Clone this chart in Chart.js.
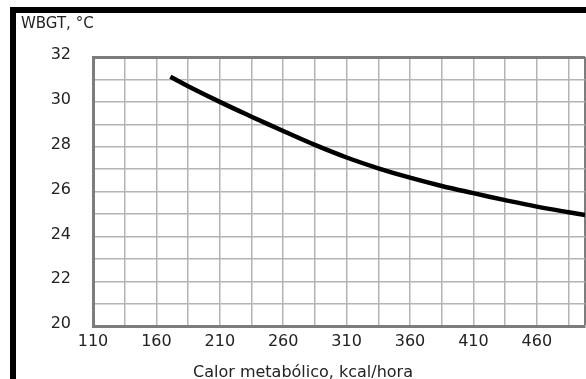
<!DOCTYPE html>
<html>
<head>
<meta charset="utf-8">
<script src="https://cdn.jsdelivr.net/npm/chart.js@4.4.0/dist/chart.umd.min.js"></script>
<style>
  html, body { margin: 0; padding: 0; background: #fff; overflow: hidden; }
  #frame { position: absolute; left: 10px; top: 7px; width: 600px; height: 400px;
           border-left: 6px solid #000; border-top: 6px solid #000; }
  #wrap { position: absolute; left: 0; top: 0; width: 586px; height: 379px; }
</style>
</head>
<body>
<div id="frame"></div>
<div id="wrap"><canvas id="wbgtChart" width="586" height="379"></canvas></div>
<script>
// metabolic heat (kcal/hora) vs WBGT limit (°C)
var calor = [171, 185, 210, 235, 260, 285, 310, 335, 360, 385, 410, 435, 460, 485, 498];
var wbgt = [31.12, 30.7, 30.0, 29.34, 28.7, 28.08, 27.52, 27.04, 26.62, 26.25, 25.93, 25.62, 25.33, 25.08, 24.96];

var xGrid = [110, 135, 160, 185, 210, 235, 260, 285, 310, 335, 360, 385, 410, 435, 460, 485];
var xLabels = [110, 160, 210, 260, 310, 360, 410, 460];
var yLabels = [20, 22, 24, 26, 28, 30, 32];
var xMin = 110, xMax = 498, yMin = 20, yMax = 32;

var points = calor.map(function (c, i) { return { x: c, y: wbgt[i] }; });

var gridColor = '#b4b4b4';
var edgeColor = '#7d7d7d';
var textColor = '#222';
var fontFamily = '"DejaVu Sans", Arial, sans-serif';

var ctx = document.getElementById('wbgtChart').getContext('2d');

var wbgtChart = new Chart(ctx, {
    type: 'line',
    data: {
        datasets: [{
            label: 'WBGT',
            data: points,
            borderColor: '#000',
            borderWidth: 4.5,
            pointRadius: 0,
            fill: false,
            tension: 0.4
        }]
    },
    options: {
        responsive: false,
        animation: false,
        layout: { padding: { left: 21, right: 1, top: 0, bottom: 0 } },
        plugins: {
            legend: { display: false },
            tooltip: { enabled: false },
            title: {
                display: true,
                text: 'WBGT, °C',
                align: 'start',
                color: textColor,
                font: { family: fontFamily, size: 15, weight: 'normal', lineHeight: 1.2 },
                padding: { top: 15, bottom: 24 }
            },
            subtitle: {
                display: true,
                position: 'bottom',
                text: 'Calor metabólico, kcal/hora',
                color: textColor,
                font: { family: fontFamily, size: 16, weight: 'normal', lineHeight: 0.8 },
                padding: { top: 0, bottom: 0 }
            }
        },
        scales: {
            x: {
                type: 'linear',
                min: xMin,
                max: xMax,
                afterBuildTicks: function (scale) {
                    scale.ticks = xGrid.concat([xMax]).map(function (v) { return { value: v }; });
                },
                afterFit: function (scale) { scale.height = 40; },
                grid: {
                    drawTicks: false,
                    color: function (c) { return c.tick && c.tick.value === xMax ? edgeColor : gridColor; },
                    lineWidth: function (c) { return c.tick && c.tick.value === xMax ? 3 : 1.5; }
                },
                border: { color: edgeColor, width: 3 },
                ticks: {
                    autoSkip: false,
                    maxRotation: 0,
                    padding: 0,
                    color: textColor,
                    font: { family: fontFamily, size: 16, lineHeight: 2 },
                    callback: function (v) { return xLabels.indexOf(v) >= 0 ? String(v) : ''; }
                }
            },
            y: {
                min: yMin,
                max: yMax,
                afterFit: function (scale) { scale.width = 72; },
                grid: {
                    drawTicks: false,
                    color: function (c) { return c.tick && c.tick.value === yMax ? edgeColor : gridColor; },
                    lineWidth: function (c) { return c.tick && c.tick.value === yMax ? 3 : 1.5; }
                },
                border: { color: edgeColor, width: 3 },
                ticks: {
                    stepSize: 1,
                    autoSkip: false,
                    padding: 22,
                    labelOffset: -2,
                    color: textColor,
                    font: { family: fontFamily, size: 16 },
                    callback: function (v) { return yLabels.indexOf(v) >= 0 ? String(v) : ''; }
                }
            }
        }
    }
});
</script>
</body>
</html>
